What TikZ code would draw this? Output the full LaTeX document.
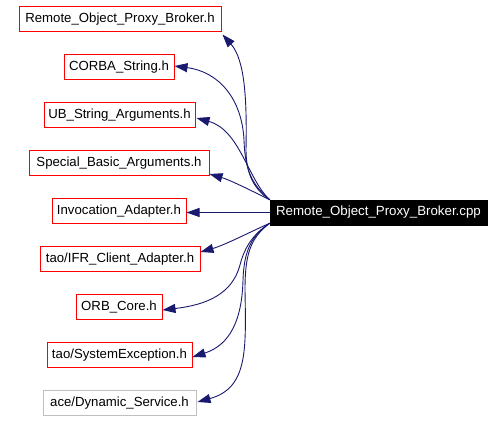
\documentclass[tikz,border=0pt]{standalone}
\usepackage{fontspec}
\setmainfont{Liberation Sans}
\usetikzlibrary{arrows.meta,calc}
\definecolor{edgeblue}{HTML}{191970}
\definecolor{boxred}{HTML}{FF0000}
\definecolor{boxgray}{HTML}{BFBFBF}
\tikzset{
  hbox/.style={draw=boxred, line width=1pt, fill=white, inner sep=0pt, minimum height=25pt,
    font=\fontsize{13.2}{15}\selectfont, text=black, anchor=center},
  graybox/.style={hbox, draw=boxgray},
  mainbox/.style={draw=black, fill=black, text=white, inner sep=0pt, minimum height=25pt,
    minimum width=217pt, font=\fontsize{13.3}{15}\selectfont},
  dep/.style={draw=edgeblue, line width=0.9pt, -{Triangle[length=13pt,width=9pt]}, fill=none}
}
\begin{document}
\begin{tikzpicture}[x=1pt,y=-1pt]
\useasboundingbox[fill=white] (0,0) rectangle (504,422);
\node[mainbox] (main) at (378.5,212.5) {Remote\_Object\_Proxy\_Broker.cpp};
\node[hbox, minimum width=202pt] (h1) at (120,19.5) {Remote\_Object\_Proxy\_Broker.h};
\node[hbox, minimum width=110pt] (h2) at (119,67.5) {CORBA\_String.h};
\node[hbox, minimum width=151pt] (h3) at (119.5,115.5) {UB\_String\_Arguments.h};
\node[hbox, minimum width=180pt] (h4) at (119,163.5) {Special\_Basic\_Arguments.h};
\node[hbox, minimum width=134pt] (h5) at (119,211.5) {Invocation\_Adapter.h};
\node[hbox, minimum width=160pt] (h6) at (120,259.5) {tao/IFR\_Client\_Adapter.h};
\node[hbox, minimum width=86pt] (h7) at (119,307.5) {ORB\_Core.h};
\node[hbox, minimum width=145pt] (h8) at (119.5,355.5) {tao/SystemException.h};
\node[graybox, minimum width=153pt] (h9) at (119.5,403.5) {ace/Dynamic\_Service.h};

\coordinate (up) at (main.north west);
\coordinate (lo) at ($(main.south west)+(0,-2)$);

\draw[dep] (up) .. controls (255,190) and (246,175) .. (246,150)
  .. controls (247,100) and (245,60) .. ($(h1.south east)+(1,2)$);
\draw[dep] (up) .. controls (252,185) and (245,170) .. (244,140)
  .. controls (242,100) and (220,72) .. ($(h2.east)+(0,-1.5)$);
\draw[dep] (up) .. controls (248,180) and (240,130) .. ($(h3.east)+(1,2.5)$);
\draw[dep] (up) .. controls (250,190) and (230,180) .. ($(h4.east)+(0,10.5)$);
\draw[dep] (main.west) -- (main.west -| h5.east);
\draw[dep] (lo) .. controls (250,232) and (225,245) .. ($(h6.east)+(0,-7.5)$);
\draw[dep] (lo) .. controls (255,233) and (245,245) .. (240,265)
  .. controls (232,295) and (205,305) .. ($(h7.east)+(0,2.5)$);
\draw[dep] (lo) .. controls (252,235) and (244,250) .. (243,280)
  .. controls (242,320) and (230,345) .. ($(h8.east)+(0,1.5)$);
\draw[dep] (lo) .. controls (250,238) and (245,255) .. (245,290)
  .. controls (246,350) and (248,388) .. ($(h9.east)+(1,-1.5)$);
\end{tikzpicture}
\end{document}
